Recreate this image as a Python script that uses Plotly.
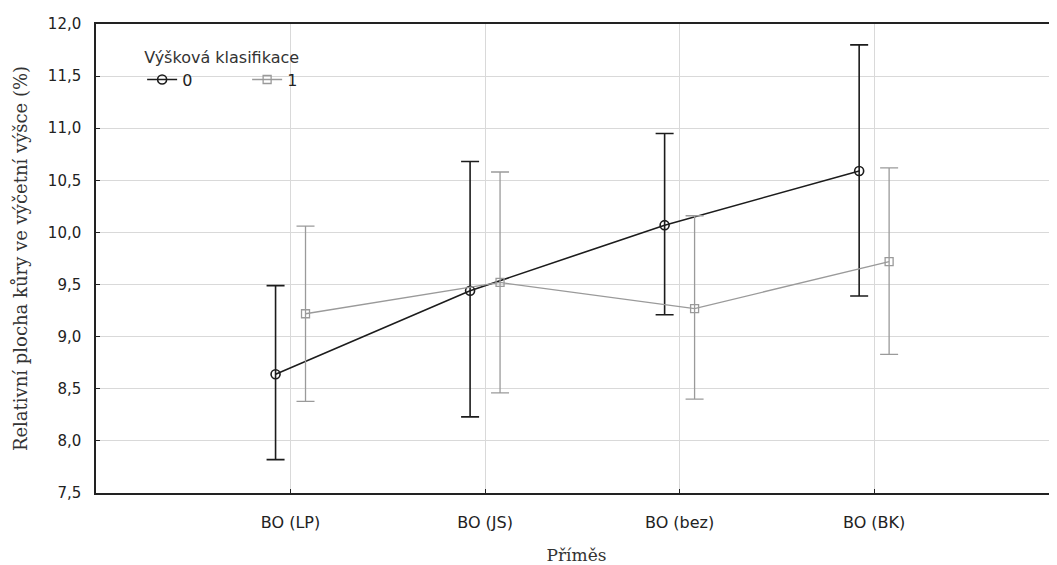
import plotly.graph_objects as go

categories = ["BO (LP)", "BO (JS)", "BO (bez)", "BO (BK)"]
series_names = ["0", "1"]

mean_0 = [8.64, 9.44, 10.07, 10.59]
upper_0 = [9.49, 10.68, 10.95, 11.80]
lower_0 = [7.82, 8.23, 9.21, 9.39]

mean_1 = [9.22, 9.52, 9.27, 9.72]
upper_1 = [10.06, 10.58, 10.16, 10.62]
lower_1 = [8.38, 8.46, 8.40, 8.83]

y_ticks = [7.5, 8.0, 8.5, 9.0, 9.5, 10.0, 10.5, 11.0, 11.5, 12.0]

offset = 0.077
pos = list(range(len(categories)))

fig = go.Figure()

styles = [
    dict(color="#1c1c1c", symbol="circle-open", lw=1.6, size=9, ew=1.6),
    dict(color="#9a9a9a", symbol="square-open", lw=1.3, size=8, ew=1.3),
]
data = [(mean_0, upper_0, lower_0), (mean_1, upper_1, lower_1)]

for i, (name, (m, u, l), st) in enumerate(zip(series_names, data, styles)):
    xs = [p + (-offset if i == 0 else offset) for p in pos]
    fig.add_trace(go.Scatter(
        x=xs, y=m, name=name, mode="lines+markers",
        line=dict(color=st["color"], width=st["lw"]),
        marker=dict(symbol=st["symbol"], size=st["size"], color=st["color"],
                    line=dict(color=st["color"], width=st["ew"])),
        error_y=dict(type="data", symmetric=False,
                     array=[uu - mm for uu, mm in zip(u, m)],
                     arrayminus=[mm - ll for mm, ll in zip(m, l)],
                     color=st["color"], thickness=st["ew"], width=9),
    ))

sans = "DejaVu Sans, Open Sans, sans-serif"
serif = "DejaVu Serif, Liberation Serif, serif"

fig.update_layout(
    width=1049, height=557,
    margin=dict(l=88, r=0, t=16, b=72),
    paper_bgcolor="white", plot_bgcolor="white",
    separators=", ",
    font=dict(family=sans, size=15, color="#222"),
    showlegend=True,
    legend=dict(
        title=dict(text="Výšková klasifikace", side="top",
                   font=dict(family=sans, size=16, color="#333")),
        orientation="h", x=0.048, y=0.962, xanchor="left", yanchor="top",
        bgcolor="rgba(0,0,0,0)", font=dict(family=sans, size=16, color="#222"),
        entrywidth=60, entrywidthmode="pixels", tracegroupgap=0,
    ),
    xaxis=dict(
        range=[-1.0, 3.94], tickmode="array", tickvals=pos, ticktext=categories,
        tickfont=dict(family=sans, size=16, color="#222"),
        showgrid=True, gridcolor="#d9d9d9", gridwidth=1,
        showline=True, linecolor="#222", linewidth=2, mirror=True,
        ticks="inside", ticklen=4, tickcolor="#222",
        ticklabelstandoff=14, zeroline=False,
        title=dict(text="Příměs", standoff=20,
                   font=dict(family=serif, size=17, color="#333")),
    ),
    yaxis=dict(
        range=[7.5, 12.0], tickmode="array", tickvals=y_ticks, tickformat=".1f",
        tickfont=dict(family=sans, size=15, color="#222"),
        showgrid=True, gridcolor="#d9d9d9", gridwidth=1,
        showline=True, linecolor="#222", linewidth=1.5,
        ticks="inside", ticklen=4, tickcolor="#222",
        ticklabelstandoff=10, zeroline=False,
        title=dict(text="Relativní plocha kůry ve výčetní výšce (%)", standoff=16,
                   font=dict(family=serif, size=18, color="#333")),
    ),
)

fig.write_html("out.html")
